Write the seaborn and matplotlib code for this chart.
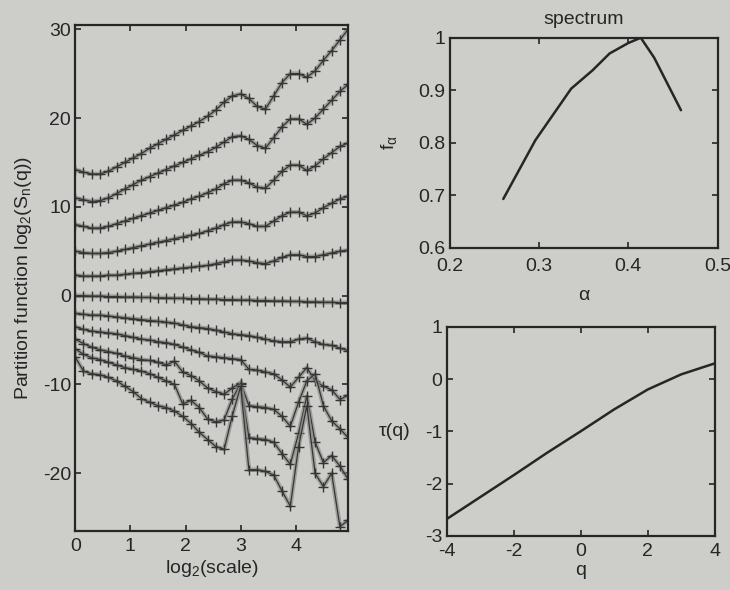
import numpy as np
import pandas as pd
import matplotlib
matplotlib.use("Agg")
import matplotlib.pyplot as plt
import seaborn as sns

sns.set_theme(style="white")
plt.rcParams['font.family'] = ['Liberation Sans', 'DejaVu Sans']
plt.rcParams['axes.unicode_minus'] = False

# ---------------- data ----------------
log2_scale = [0.0, 0.15, 0.3, 0.45, 0.6, 0.75, 0.9, 1.05, 1.2, 1.35, 1.5, 1.65,
              1.8, 1.95, 2.1, 2.25, 2.4, 2.55, 2.7, 2.85, 3.0, 3.15, 3.3, 3.45,
              3.6, 3.75, 3.9, 4.05, 4.2, 4.35, 4.5, 4.65, 4.8, 4.95]

pf_q5 = [14.2, 13.9, 13.7, 13.7, 14.0, 14.5, 15.0, 15.5, 16.0, 16.6, 17.1, 17.6,
         18.1, 18.6, 19.1, 19.6, 20.2, 20.9, 21.8, 22.5, 22.7, 22.2, 21.3, 21.0,
         22.5, 24.0, 25.0, 25.0, 24.6, 25.3, 26.5, 27.6, 28.8, 30.0]
pf_q4 = [11.0, 10.8, 10.6, 10.7, 11.0, 11.5, 12.0, 12.5, 13.0, 13.4, 13.8, 14.2,
         14.6, 15.0, 15.4, 15.8, 16.2, 16.7, 17.3, 17.9, 18.0, 17.6, 16.9, 16.6,
         17.8, 19.0, 19.9, 19.9, 19.3, 20.0, 21.0, 22.0, 23.0, 23.8]
pf_q3 = [8.0, 7.8, 7.6, 7.6, 7.8, 8.1, 8.4, 8.7, 9.0, 9.3, 9.6, 9.9,
         10.2, 10.5, 10.9, 11.2, 11.6, 12.0, 12.6, 13.0, 13.0, 12.7, 12.2, 12.1,
         13.0, 14.0, 14.7, 14.7, 14.1, 14.6, 15.4, 16.1, 16.8, 17.2]
pf_q2 = [5.0, 4.85, 4.75, 4.75, 4.85, 5.0, 5.2, 5.4, 5.6, 5.8, 6.0, 6.2,
         6.4, 6.6, 6.8, 7.0, 7.3, 7.6, 8.0, 8.3, 8.3, 8.1, 7.8, 7.8,
         8.4, 9.0, 9.4, 9.4, 9.0, 9.3, 9.9, 10.4, 10.9, 11.2]
pf_q1 = [2.3, 2.2, 2.2, 2.2, 2.3, 2.3, 2.4, 2.5, 2.6, 2.7, 2.8, 2.9,
         3.0, 3.1, 3.2, 3.3, 3.4, 3.6, 3.8, 4.0, 4.0, 3.9, 3.7, 3.6,
         3.9, 4.3, 4.6, 4.6, 4.4, 4.4, 4.6, 4.8, 5.0, 5.1]
pf_q0 = [0.0, 0.0, -0.05, -0.05, -0.1, -0.1, -0.15, -0.15, -0.2, -0.2, -0.25, -0.25,
         -0.3, -0.3, -0.35, -0.35, -0.4, -0.4, -0.45, -0.45, -0.5, -0.5, -0.55, -0.55,
         -0.6, -0.6, -0.65, -0.65, -0.7, -0.7, -0.75, -0.75, -0.8, -0.8]
pf_qm1 = [-2.0, -2.1, -2.2, -2.2, -2.3, -2.4, -2.5, -2.6, -2.7, -2.8, -2.9, -3.0,
          -3.1, -3.3, -3.5, -3.6, -3.7, -3.9, -4.1, -4.3, -4.4, -4.5, -4.7, -4.9,
          -5.1, -5.2, -5.2, -4.9, -4.8, -5.2, -5.5, -5.6, -5.9, -6.2]
pf_qm2 = [-3.5, -3.8, -4.0, -4.1, -4.2, -4.3, -4.5, -4.7, -4.9, -5.0, -5.2, -5.3,
          -5.5, -5.8, -6.1, -6.4, -6.8, -6.9, -7.0, -7.1, -7.2, -8.3, -8.4, -8.6,
          -8.8, -9.5, -10.3, -9.2, -8.1, -9.6, -10.2, -10.6, -11.7, -11.2]
pf_qm3 = [-4.9, -5.4, -5.8, -6.1, -6.3, -6.5, -6.8, -7.0, -7.2, -7.3, -7.5, -7.8,
          -7.4, -8.6, -9.0, -9.6, -10.4, -10.8, -11.1, -10.4, -9.8, -12.4, -12.5, -12.6,
          -12.8, -13.6, -14.7, -12.0, -9.6, -8.8, -12.4, -14.1, -15.0, -16.0]
pf_qm4 = [-6.0, -6.6, -7.0, -7.2, -7.5, -7.8, -8.1, -8.3, -8.5, -8.8, -9.2, -9.6,
          -10.0, -12.2, -11.8, -12.6, -13.9, -14.2, -14.0, -11.6, -9.9, -16.0, -16.1, -16.2,
          -16.5, -17.8, -19.0, -15.5, -11.3, -16.5, -18.8, -18.0, -19.2, -20.7]
pf_qm5 = [-6.9, -8.5, -8.8, -8.9, -9.2, -9.6, -10.2, -10.8, -11.6, -12.0, -12.4, -12.6,
          -13.0, -13.6, -14.4, -15.4, -16.2, -17.0, -17.3, -13.5, -10.2, -19.6, -19.6, -19.8,
          -20.2, -22.0, -23.7, -17.0, -12.4, -20.0, -21.5, -20.0, -26.0, -25.3]

partition_series = {
    "q=5": pf_q5, "q=4": pf_q4, "q=3": pf_q3, "q=2": pf_q2, "q=1": pf_q1,
    "q=0": pf_q0, "q=-1": pf_qm1, "q=-2": pf_qm2, "q=-3": pf_qm3,
    "q=-4": pf_qm4, "q=-5": pf_qm5,
}

alpha = [0.260, 0.296, 0.336, 0.360, 0.379, 0.400, 0.414, 0.429, 0.459]
f_alpha = [0.693, 0.805, 0.903, 0.938, 0.970, 0.990, 1.000, 0.962, 0.862]

q_vals = [-4, -3, -2, -1, 0, 1, 2, 3, 4]
tau_q = [-2.68, -2.26, -1.84, -1.41, -1.0, -0.58, -0.20, 0.09, 0.30]

# ---------------- style ----------------
BG = "#cdcdca"
INK = "#262626"
LINE = "#353535"
HALO = "#8a8a88"
FS = 14

fig = plt.figure(figsize=(7.3, 5.9), dpi=100, facecolor=BG)

def style_axes(ax):
    ax.set_facecolor(BG)
    for s in ax.spines.values():
        s.set_color(INK)
        s.set_linewidth(1.6)
        s.set_visible(True)
    ax.tick_params(direction="in", length=4, width=1.2, color=INK,
                   labelsize=FS, labelcolor=INK, top=True, right=True,
                   bottom=True, left=True, pad=3)
    ax.grid(False)

# ---- left panel ----
ax1 = fig.add_axes([0.103, 0.100, 0.374, 0.858])
style_axes(ax1)
long_rows = []
for name, vals in partition_series.items():
    for xv, yv in zip(log2_scale, vals):
        long_rows.append((name, xv, yv))
df = pd.DataFrame(long_rows, columns=["series", "log2scale", "value"])
for name in partition_series:
    sub = df[df["series"] == name]
    sns.lineplot(data=sub, x="log2scale", y="value", ax=ax1, color=HALO,
                 linewidth=3.2, alpha=0.7, estimator=None, sort=False, legend=False)
    sns.lineplot(data=sub, x="log2scale", y="value", ax=ax1, color=LINE,
                 linewidth=0.9, marker="+", markersize=7, markeredgewidth=1.0,
                 markeredgecolor=LINE, estimator=None, sort=False, legend=False)
ax1.set_xlim(0, 4.95)
ax1.set_ylim(-26.5, 30.5)
ax1.set_xticks([0, 1, 2, 3, 4])
ax1.set_xticklabels(["0", "1", "2", "3", "4"])
ax1.set_yticks([-20, -10, 0, 10, 20, 30])
ax1.set_yticklabels(["-20", "-10", "0", "10", "20", "30"])
ax1.tick_params(axis="x", pad=5)
ax1.set_xlabel(r"log$\mathregular{_2}$(scale)", fontsize=FS, color=INK, labelpad=2)
ax1.set_ylabel(r"Partition function log$\mathregular{_2}$(S$\mathregular{_n}$(q))",
               fontsize=FS, color=INK, labelpad=6)

# ---- top right: spectrum ----
ax2 = fig.add_axes([0.616, 0.580, 0.367, 0.356])
style_axes(ax2)
sns.lineplot(x=alpha, y=f_alpha, ax=ax2, color=INK, linewidth=1.8,
             estimator=None, sort=False, legend=False)
ax2.set_xlim(0.2, 0.5)
ax2.set_ylim(0.6, 1.0)
ax2.set_xticks([0.2, 0.3, 0.4, 0.5])
ax2.set_xticklabels(["0.2", "0.3", "0.4", "0.5"])
ax2.set_yticks([0.6, 0.7, 0.8, 0.9, 1.0])
ax2.set_yticklabels(["0.6", "0.7", "0.8", "0.9", "1"])
ax2.tick_params(axis="x", pad=7)
ax2.set_title("spectrum", fontsize=FS, color=INK, pad=10)
ax2.set_xlabel("α", fontsize=FS, color=INK, labelpad=9)
ax2.set_ylabel(r"$\mathregular{f_{α}}$", fontsize=FS, color=INK, labelpad=14)

# ---- bottom right: tau(q) ----
ax3 = fig.add_axes([0.612, 0.092, 0.367, 0.354])
style_axes(ax3)
sns.lineplot(x=q_vals, y=tau_q, ax=ax3, color=INK, linewidth=1.8,
             estimator=None, sort=False, legend=False)
ax3.set_xlim(-4, 4)
ax3.set_ylim(-3, 1)
ax3.set_xticks([-4, -2, 0, 2, 4])
ax3.set_xticklabels(["-4", "-2", "0", "2", "4"])
ax3.set_yticks([-3, -2, -1, 0, 1])
ax3.set_yticklabels(["-3", "-2", "-1", "0", "1"])
ax3.tick_params(axis="x", pad=5)
ax3.set_xlabel("q", fontsize=FS, color=INK, labelpad=2)
ax3.set_ylabel("τ(q)", fontsize=FS, color=INK, rotation=0, labelpad=22, va="center")

fig.savefig("out.png", dpi=100, facecolor=BG)
